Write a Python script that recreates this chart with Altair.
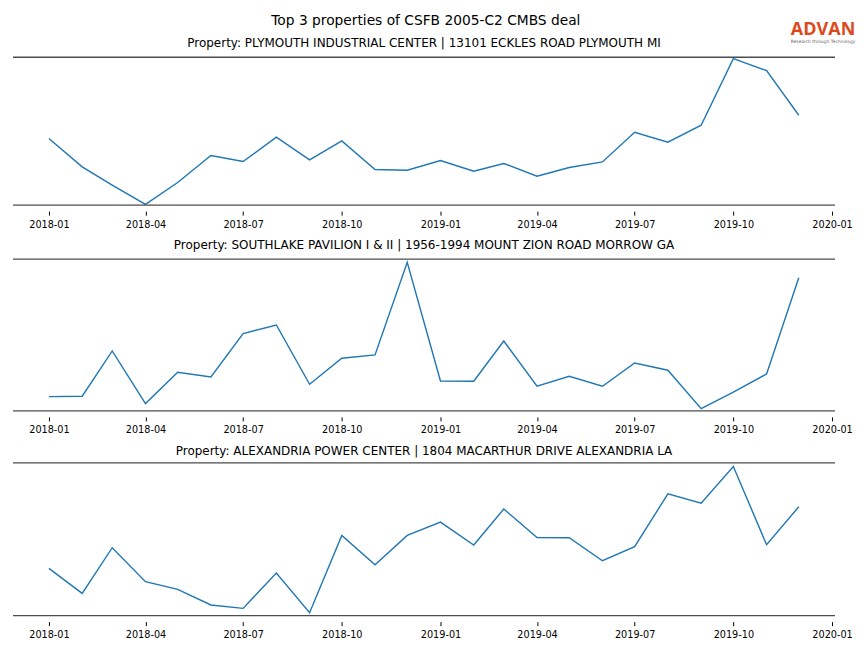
import altair as alt
import pandas as pd

# ---- data ----
months = pd.date_range("2018-01-01", periods=24, freq="MS").strftime("%Y-%m-%d").tolist()

plymouth = [66.7, 38.3, 20.0, 0.7, 22.7, 49.7, 43.7, 68.0, 45.3, 64.3, 35.7, 35.0,
            44.7, 34.0, 41.7, 29.0, 37.7, 43.3, 73.0, 63.0, 80.0, 146.7, 134.7, 90.0]
southlake = [14.3, 14.7, 60.0, 7.3, 38.7, 34.0, 77.3, 86.0, 26.7, 52.7, 56.0, 148.7,
             30.0, 29.7, 70.0, 24.7, 34.7, 24.7, 48.0, 40.7, 2.3, 18.7, 37.0, 133.3]
alexandria = [47.3, 22.3, 68.0, 34.0, 26.3, 10.7, 7.3, 42.7, 3.0, 80.3, 51.0, 80.3,
              93.7, 70.7, 106.7, 78.3, 78.0, 55.0, 69.0, 122.0, 112.7, 149.3, 71.0, 109.0]

series = [plymouth, southlake, alexandria]
titles = [
    "Property: PLYMOUTH INDUSTRIAL CENTER | 13101 ECKLES ROAD PLYMOUTH MI",
    "Property: SOUTHLAKE PAVILION I & II | 1956-1994 MOUNT ZION ROAD MORROW GA",
    "Property: ALEXANDRIA POWER CENTER | 1804 MACARTHUR DRIVE ALEXANDRIA LA",
]
y_max = [148, 152, 153]
heights = [148, 152, 153]
title_offsets = [6, 6, 4]
main_title = "Top 3 properties of CSFB 2005-C2 CMBS deal"
logo_text = "ADVAN"
logo_tag = "Research through Technology"

W = 823
FONT = "DejaVu Sans"

tick_dates = [alt.DateTime(year=y, month=m, date=1, utc=True)
              for (y, m) in [(2018, 1), (2018, 4), (2018, 7), (2018, 10), (2019, 1),
                             (2019, 4), (2019, 7), (2019, 10), (2020, 1)]]
x_domain = [alt.DateTime(year=2017, month=11, date=28, hours=12, utc=True),
            alt.DateTime(year=2020, month=1, date=3, hours=19, utc=True)]


def panel(vals, title, h, ymax, toff, logo=False):
    df = pd.DataFrame({"date": months, "value": vals})
    line = alt.Chart(df).mark_line(color="#1f77b4", strokeWidth=1.4).encode(
        x=alt.X("date:T",
                scale=alt.Scale(type="utc", domain=x_domain, nice=False),
                axis=alt.Axis(values=tick_dates, format="%Y-%m",
                              domain=False, grid=False, offset=6, tickSize=4,
                              tickColor="#000000", tickWidth=1, labelPadding=4,
                              labelFontSize=9.7, labelFont=FONT, labelColor="#000000",
                              labelFlush=False, title=None)),
        y=alt.Y("value:Q", scale=alt.Scale(domain=[0, ymax], nice=False, zero=False), axis=None),
    )
    edge = alt.Data(values=[{"e": 0}])
    top = alt.Chart(edge).mark_rule(color="#4d4d4d", strokeWidth=1.4).encode(
        x=alt.value(0), x2=alt.value(W), y=alt.value(0))
    bottom = alt.Chart(edge).mark_rule(color="#4d4d4d", strokeWidth=1.4).encode(
        x=alt.value(0), x2=alt.value(W), y=alt.value(h))
    layers = [line, top, bottom]
    tparams = dict(text=title, fontSize=12, font=FONT, fontWeight="normal",
                   anchor="middle", color="#000000", offset=toff)
    if logo:
        logo_df = alt.Data(values=[{"t": logo_text, "s": logo_tag}])
        lg = alt.Chart(logo_df).mark_text(font="Open Sans", fontSize=18, fontWeight="bold",
                                          color="#dc4a1c", align="center", baseline="middle").encode(
            text="t:N", x=alt.value(811), y=alt.value(-27))
        tg = alt.Chart(logo_df).mark_text(font=FONT, fontSize=4.4, color="#666666",
                                          align="center", baseline="middle").encode(
            text="s:N", x=alt.value(811), y=alt.value(-15.5))
        layers += [lg, tg]
        tparams["dy"] = 35
    return alt.layer(*layers).properties(width=W, height=h, title=alt.TitleParams(**tparams))


panels = [panel(series[i], titles[i], heights[i], y_max[i], title_offsets[i], logo=(i == 0))
          for i in range(3)]

chart = alt.vconcat(*panels, spacing=10).properties(
    title=alt.TitleParams(text=main_title, fontSize=13.8, font=FONT, fontWeight="normal",
                          anchor="middle", color="#000000", offset=6, dy=12, dx=-8),
    padding={"left": 4, "top": 5, "right": 0, "bottom": 0},
).configure_view(stroke=None)

chart.save("out.html", embed_options={"renderer": "svg", "actions": False})
